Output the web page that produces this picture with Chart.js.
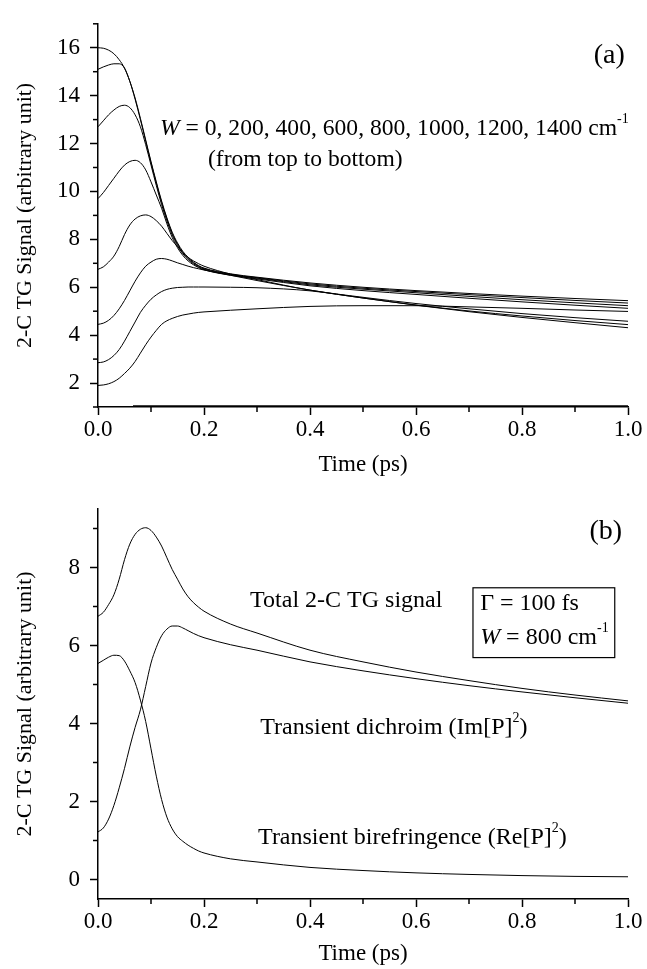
<!DOCTYPE html>
<html><head><meta charset="utf-8">
<script src="https://cdn.jsdelivr.net/npm/chart.js@4.4.1/dist/chart.umd.min.js"></script>
<style>
html,body{margin:0;padding:0;background:#fff;}
#wrap{position:relative;width:647px;height:969px;background:#fff;}
#c1{position:absolute;left:0;top:0;}
#c2{position:absolute;left:0;top:480px;}
</style></head><body>
<div id="wrap"><canvas id="c1" width="647" height="480"></canvas><canvas id="c2" width="647" height="489"></canvas></div>
<script>
// ---- data ----
const time = [0,0.01,0.02,0.03,0.04,0.05,0.06,0.07,0.08,0.09,0.10,0.11,0.12,0.13,0.14,0.15,0.16,0.17,0.18,0.19,0.20,0.25,0.30,0.40,0.50,0.60,0.70,0.80,0.90,1.00];
const W0    = [16.0,15.98,15.9,15.75,15.5,15.15,14.6,13.9,13.05,12.15,11.25,10.4,9.6,8.9,8.3,7.85,7.5,7.25,7.05,6.9,6.8,6.56,6.42,6.18,6.0,5.86,5.74,5.63,5.53,5.44];
const W200  = [15.1,15.2,15.28,15.33,15.33,15.15,14.6,13.85,13.0,12.1,11.2,10.35,9.55,8.85,8.25,7.8,7.45,7.2,7.02,6.88,6.78,6.54,6.4,6.14,5.96,5.82,5.69,5.57,5.45,5.34];
const W400  = [12.7,12.95,13.2,13.4,13.55,13.6,13.5,13.2,12.7,11.95,11.1,10.25,9.45,8.77,8.18,7.74,7.4,7.16,6.98,6.85,6.75,6.52,6.38,6.1,5.92,5.77,5.62,5.48,5.35,5.23];
const W600  = [9.7,9.95,10.25,10.55,10.85,11.1,11.25,11.3,11.2,10.9,10.4,9.85,9.3,8.65,8.08,7.65,7.33,7.1,6.94,6.82,6.73,6.5,6.35,6.06,5.86,5.7,5.54,5.39,5.25,5.12];
const W800  = [6.75,6.85,7.05,7.3,7.7,8.2,8.6,8.85,8.98,9.02,8.95,8.78,8.55,8.25,7.95,7.7,7.45,7.25,7.1,6.98,6.88,6.55,6.32,5.88,5.58,5.32,5.1,4.9,4.73,4.58];
const W1000 = [4.45,4.5,4.62,4.82,5.1,5.45,5.85,6.25,6.6,6.88,7.05,7.17,7.2,7.17,7.1,7.02,6.95,6.88,6.82,6.77,6.72,6.5,6.28,5.88,5.55,5.26,5.01,4.8,4.61,4.44];
const W1200 = [2.85,2.88,2.98,3.15,3.4,3.75,4.15,4.55,4.95,5.25,5.5,5.68,5.82,5.91,5.96,5.99,6.0,6.01,6.01,6.01,6.01,6.0,5.98,5.85,5.55,5.25,4.98,4.74,4.52,4.31];
const W1400 = [1.9,1.92,1.97,2.06,2.2,2.4,2.62,2.9,3.25,3.6,3.92,4.2,4.45,4.6,4.7,4.78,4.84,4.88,4.92,4.95,4.97,5.04,5.1,5.2,5.23,5.23,5.18,5.12,5.05,4.99];
const baseT = [0.066, 1.0];
const baseY = [1.04, 1.04];
// panel (b), W = 800 cm-1
const totalSignal   = W800;
const dichroism     = [1.22,1.32,1.55,1.9,2.35,2.85,3.4,3.9,4.35,4.95,5.55,5.95,6.25,6.42,6.5,6.5,6.45,6.38,6.31,6.25,6.2,6.02,5.88,5.58,5.35,5.15,4.97,4.81,4.66,4.52];
const birefringence = [5.54,5.62,5.7,5.75,5.74,5.6,5.35,5.05,4.6,4.05,3.35,2.65,2.05,1.6,1.3,1.1,0.98,0.88,0.8,0.73,0.68,0.53,0.45,0.31,0.23,0.17,0.13,0.1,0.08,0.07];
// ticks
const xTickValues = [0,0.2,0.4,0.6,0.8,1.0];
const xTickLabels = ['0.0','0.2','0.4','0.6','0.8','1.0'];
const yTickValuesA = [2,4,6,8,10,12,14,16];
const yTickLabelsA = ['2','4','6','8','10','12','14','16'];
const yTickValuesB = [0,2,4,6,8];
const yTickLabelsB = ['0','2','4','6','8'];

// ---- helpers ----
const SERIF = '"Liberation Serif", "Times New Roman", serif';
function pts(xs, ys){ return xs.map((t,i)=>({x:t,y:ys[i]})); }
function ds(label, xs, ys, w){ return {label, data:pts(xs,ys), borderColor:'#000', borderWidth:w||1, pointRadius:0, fill:false, cubicInterpolationMode:'monotone'}; }
function findIdx(vals, v){ return vals.findIndex(t=>Math.abs(t-v)<1e-6); }

function xScale(){
  return {type:'linear', min:0, max:1,
    afterBuildTicks:s=>{ s.ticks = []; for(let k=0;k<=10;k++) s.ticks.push({value:k/10}); },
    ticks:{stepSize:0.1, color:'#000', font:{family:SERIF,size:23}, padding:1, maxRotation:0, autoSkip:false,
      callback:v=>{ const k=findIdx(xTickValues,v); return k>=0?xTickLabels[k]:''; }},
    grid:{drawOnChartArea:false, drawTicks:true, tickLength:8, tickWidth:1.5,
      tickColor:c=>findIdx(xTickValues,c.tick.value)>=0?'#000':'rgba(0,0,0,0)'},
    border:{display:true, color:'#000', width:1.5},
    title:{display:true, text:'Time (ps)', color:'#000', font:{family:SERIF,size:23}, padding:{top:0,bottom:1}}
  };
}
function yScale(min,max,vals,labels){
  return {type:'linear', min, max,
    afterBuildTicks:s=>{ s.ticks = []; for(let v=Math.ceil(min); v<=Math.floor(max); v++) s.ticks.push({value:v}); },
    afterFit:s=>{ s.width = 98; },
    ticks:{stepSize:1, color:'#000', font:{family:SERIF,size:23}, padding:10, autoSkip:false,
      callback:v=>{ const k=findIdx(vals,v); return k>=0?labels[k]:''; }},
    grid:{drawOnChartArea:false, drawTicks:true, tickLength:8, tickWidth:1.5,
      tickColor:c=>findIdx(vals,c.tick.value)>=0?'#000':'rgba(0,0,0,0)'},
    border:{display:true, color:'#000', width:1.5},
    title:{display:true, text:'2-C TG Signal (arbitrary unit)', color:'#000', font:{family:SERIF,size:22}, padding:{top:12,bottom:0}}
  };
}

function fontFor(s,size){ return (s.i?'italic ':'') + (s.sup?Math.round(size*0.6):size) + 'px ' + SERIF; }
function drawRich(ctx, x, y, segs, size, align){
  let total=0;
  segs.forEach(s=>{ ctx.font=fontFor(s,size); s.w=ctx.measureText(s.t).width; total+=s.w; });
  let cx = align==='right' ? x-total : x;
  ctx.textAlign='left'; ctx.textBaseline='middle'; ctx.fillStyle='#000';
  segs.forEach(s=>{ ctx.font=fontFor(s,size); ctx.fillText(s.t, cx, s.sup? y-size*0.38 : y); cx+=s.w; });
}

function annotPlugin(notes, box, majorX, majorY){
  return {id:'notes', afterDraw(chart){
    const ctx=chart.ctx, xs=chart.scales.x, ys=chart.scales.y;
    ctx.save();
    // minor ticks
    ctx.strokeStyle='#000'; ctx.lineWidth=1.5;
    xs.ticks.forEach(t=>{ if(findIdx(majorX,t.value)<0){ const px=xs.getPixelForValue(t.value); ctx.beginPath(); ctx.moveTo(px, chart.chartArea.bottom); ctx.lineTo(px, chart.chartArea.bottom+5); ctx.stroke(); }});
    ys.ticks.forEach(t=>{ if(findIdx(majorY,t.value)<0){ const py=ys.getPixelForValue(t.value); ctx.beginPath(); ctx.moveTo(chart.chartArea.left, py); ctx.lineTo(chart.chartArea.left-5, py); ctx.stroke(); }});
    if(box){
      const x1=xs.getPixelForValue(box.x0), x2=xs.getPixelForValue(box.x1), y1=ys.getPixelForValue(box.y1), y2=ys.getPixelForValue(box.y0);
      ctx.lineWidth=1.2; ctx.strokeRect(x1,y1,x2-x1,y2-y1);
    }
    notes.forEach(n=>drawRich(ctx, xs.getPixelForValue(n.x), ys.getPixelForValue(n.y), n.segs, n.size, n.align));
    ctx.restore();
  }};
}

// ---- panel (a) ----
const notesA = [
  {x:0.994, y:15.69, align:'right', size:28, segs:[{t:'(a)'}]},
  {x:0.117, y:12.63, align:'left', size:23.6, segs:[{t:'W',i:true},{t:' = 0, 200, 400, 600, 800, 1000, 1200, 1400 cm'},{t:'-1',sup:true}]},
  {x:0.2075, y:11.33, align:'left', size:23.6, segs:[{t:'(from top to bottom)'}]}
];
new Chart(document.getElementById('c1'), {
  type:'line',
  data:{datasets:[
    ds('W = 0', time, W0), ds('W = 200', time, W200), ds('W = 400', time, W400), ds('W = 600', time, W600),
    ds('W = 800', time, W800), ds('W = 1000', time, W1000), ds('W = 1200', time, W1200), ds('W = 1400', time, W1400),
    ds('baseline', baseT, baseY, 1.5)
  ]},
  options:{responsive:false, animation:false, devicePixelRatio:1,
    layout:{padding:{top:15,right:19,left:0,bottom:0}},
    plugins:{legend:{display:false}, tooltip:{enabled:false}},
    scales:{x:Object.assign(xScale(),{afterFit:s=>{s.height=73;}}), y:yScale(1,17,yTickValuesA,yTickLabelsA)}
  },
  plugins:[annotPlugin(notesA, null, xTickValues, yTickValuesA)]
});

// ---- panel (b) ----
const notesB = [
  {x:0.989, y:8.93, align:'right', size:28, segs:[{t:'(b)'}]},
  {x:0.287, y:7.14, align:'left', size:24, segs:[{t:'Total 2-C TG signal'}]},
  {x:0.721, y:7.07, align:'left', size:24, segs:[{t:'Γ = 100 fs'}]},
  {x:0.721, y:6.2, align:'left', size:24, segs:[{t:'W',i:true},{t:' = 800 cm'},{t:'-1',sup:true}]},
  {x:0.306, y:3.9, align:'left', size:24, segs:[{t:'Transient dichroim (Im[P]'},{t:'2',sup:true},{t:')'}]},
  {x:0.302, y:1.08, align:'left', size:24, segs:[{t:'Transient birefringence (Re[P]'},{t:'2',sup:true},{t:')'}]}
];
const boxB = {x0:0.7075, x1:0.975, y0:5.69, y1:7.48};
new Chart(document.getElementById('c2'), {
  type:'line',
  data:{datasets:[
    ds('Total 2-C TG signal', time, totalSignal),
    ds('Transient dichroim', time, dichroism),
    ds('Transient birefringence', time, birefringence)
  ]},
  options:{responsive:false, animation:false, devicePixelRatio:1,
    layout:{padding:{top:29,right:19,left:0,bottom:0}},
    plugins:{legend:{display:false}, tooltip:{enabled:false}},
    scales:{x:Object.assign(xScale(),{afterFit:s=>{s.height=70;}}), y:yScale(-0.5,9.5,yTickValuesB,yTickLabelsB)}
  },
  plugins:[annotPlugin(notesB, boxB, xTickValues, yTickValuesB)]
});
</script>
</body></html>
